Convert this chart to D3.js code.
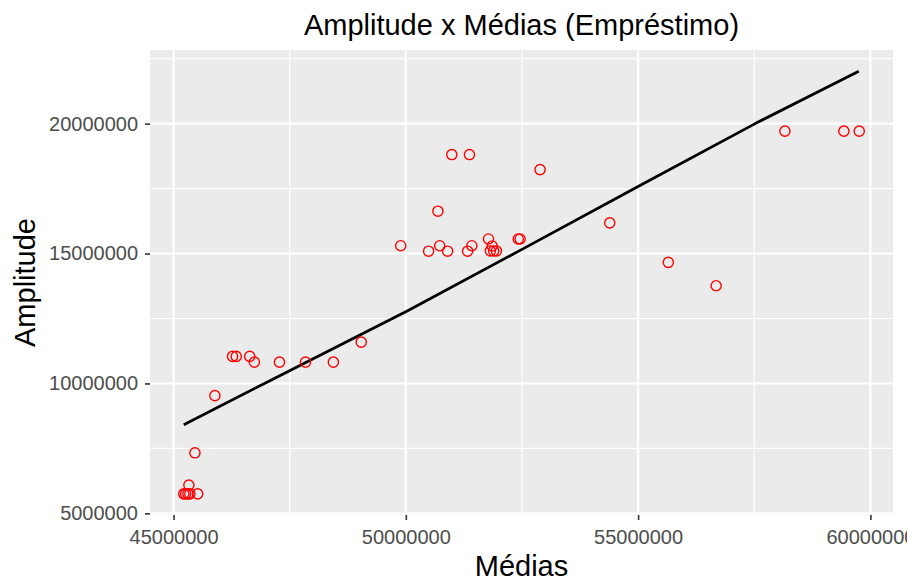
<!DOCTYPE html>
<html><head><meta charset="utf-8">
<script src="https://cdn.jsdelivr.net/npm/d3@7"></script>
<style>body{margin:0;background:#fff}svg{display:block}text{font-family:"Liberation Sans",Arial,sans-serif}</style>
</head><body>
<script>
// Scatter points (Médias, Amplitude)
const medias = [45220000,45260000,45310000,45350000,45330000,45520000,45460000,45890000,
  46270000,46350000,46640000,46740000,47280000,47840000,48440000,49040000,
  49890000,50490000,50690000,50730000,50900000,50990000,51330000,51420000,51370000,
  51780000,51860000,51820000,51890000,51950000,52420000,52460000,52890000,
  54390000,55650000,56680000,58160000,59430000,59760000];
const amplitude = [5750000,5750000,5750000,5750000,6090000,5750000,7330000,9530000,
  11040000,11040000,11040000,10820000,10820000,10820000,10820000,11590000,
  15300000,15090000,16630000,15300000,15090000,18810000,15090000,15300000,18810000,
  15560000,15290000,15100000,15100000,15100000,15560000,15560000,18230000,
  16180000,14660000,13760000,19710000,19710000,19710000];
// Fitted line points
const lineX = [45220000,47010000,50040000,52510000,54990000,57520000,59750000];
const lineY = [8410000,10050000,12800000,15170000,17570000,20000000,22020000];
const xTicks = [45000000,50000000,55000000,60000000];
const yTicks = [5000000,10000000,15000000,20000000];
const xMinor = [47500000,52500000,57500000];
const yMinor = [7500000,12500000,17500000,22500000];

const W = 907, H = 581;
const P = {l:150, r:893, t:50, b:515};
const svg = d3.select("body").append("svg").attr("width",W).attr("height",H);

function expand(ext){const d=(ext[1]-ext[0])*0.05;return [ext[0]-d, ext[1]+d];}
const xExt = d3.extent(medias.concat(lineX));
const yExt = d3.extent(amplitude.concat(lineY));
const x = d3.scaleLinear().domain(expand(xExt)).range([P.l,P.r]);
const y = d3.scaleLinear().domain(expand(yExt)).range([P.b,P.t]);

svg.append("rect").attr("x",P.l).attr("y",P.t).attr("width",P.r-P.l).attr("height",P.b-P.t).attr("fill","#EBEBEB");
const g = svg.append("g");
g.selectAll(".xmin").data(xMinor.filter(v=>x(v)>P.l&&x(v)<P.r)).enter().append("line")
  .attr("x1",d=>x(d)).attr("x2",d=>x(d)).attr("y1",P.t).attr("y2",P.b).attr("stroke","#fff").attr("stroke-width",1.1);
g.selectAll(".ymin").data(yMinor.filter(v=>y(v)>P.t&&y(v)<P.b)).enter().append("line")
  .attr("y1",d=>y(d)).attr("y2",d=>y(d)).attr("x1",P.l).attr("x2",P.r).attr("stroke","#fff").attr("stroke-width",1.1);
g.selectAll(".xmaj").data(xTicks.filter(v=>x(v)>P.l&&x(v)<P.r)).enter().append("line")
  .attr("x1",d=>x(d)).attr("x2",d=>x(d)).attr("y1",P.t).attr("y2",P.b).attr("stroke","#fff").attr("stroke-width",2.1);
g.selectAll(".ymaj").data(yTicks.filter(v=>y(v)>P.t&&y(v)<P.b)).enter().append("line")
  .attr("y1",d=>y(d)).attr("y2",d=>y(d)).attr("x1",P.l).attr("x2",P.r).attr("stroke","#fff").attr("stroke-width",2.1);

// line
const lineData = lineX.map((v,i)=>[v,lineY[i]]);
svg.append("path").datum(lineData)
  .attr("d", d3.line().x(d=>x(d[0])).y(d=>y(d[1])))
  .attr("fill","none").attr("stroke","#000").attr("stroke-width",2.8).attr("stroke-linejoin","round");

// points
svg.selectAll(".pt").data(medias.map((v,i)=>[v,amplitude[i]])).enter().append("circle")
  .attr("cx",d=>x(d[0])).attr("cy",d=>y(d[1])).attr("r",5.1)
  .attr("fill","none").attr("stroke","#FF0000").attr("stroke-width",1.4);

// axes
const xAxis = svg.append("g").attr("transform",`translate(0,${P.b})`)
  .call(d3.axisBottom(x).tickValues(xTicks).tickFormat(d3.format("d")).tickSizeOuter(0).tickSize(5).tickPadding(10));
const yAxis = svg.append("g").attr("transform",`translate(${P.l},0)`)
  .call(d3.axisLeft(y).tickValues(yTicks).tickFormat(d3.format("d")).tickSizeOuter(0).tickSize(5).tickPadding(7));
[xAxis,yAxis].forEach(a=>{
  a.select(".domain").remove();
  a.selectAll(".tick line").attr("stroke","#333333").attr("stroke-width",1.6);
  a.selectAll(".tick text").attr("fill","#4D4D4D").style("font-size","20px").style("font-family","'Liberation Sans',Arial,sans-serif");
});

svg.append("text").attr("x",(P.l+P.r)/2).attr("y",35).attr("text-anchor","middle")
  .style("font-size","29px").attr("fill","#000").text("Amplitude x Médias (Empréstimo)");
svg.append("text").attr("x",(P.l+P.r)/2).attr("y",576).attr("text-anchor","middle")
  .style("font-size","29px").attr("fill","#000").text("Médias");
svg.append("text").attr("transform",`translate(35,${(P.t+P.b)/2}) rotate(-90)`).attr("text-anchor","middle")
  .style("font-size","29px").attr("fill","#000").text("Amplitude");
</script>
</body></html>
